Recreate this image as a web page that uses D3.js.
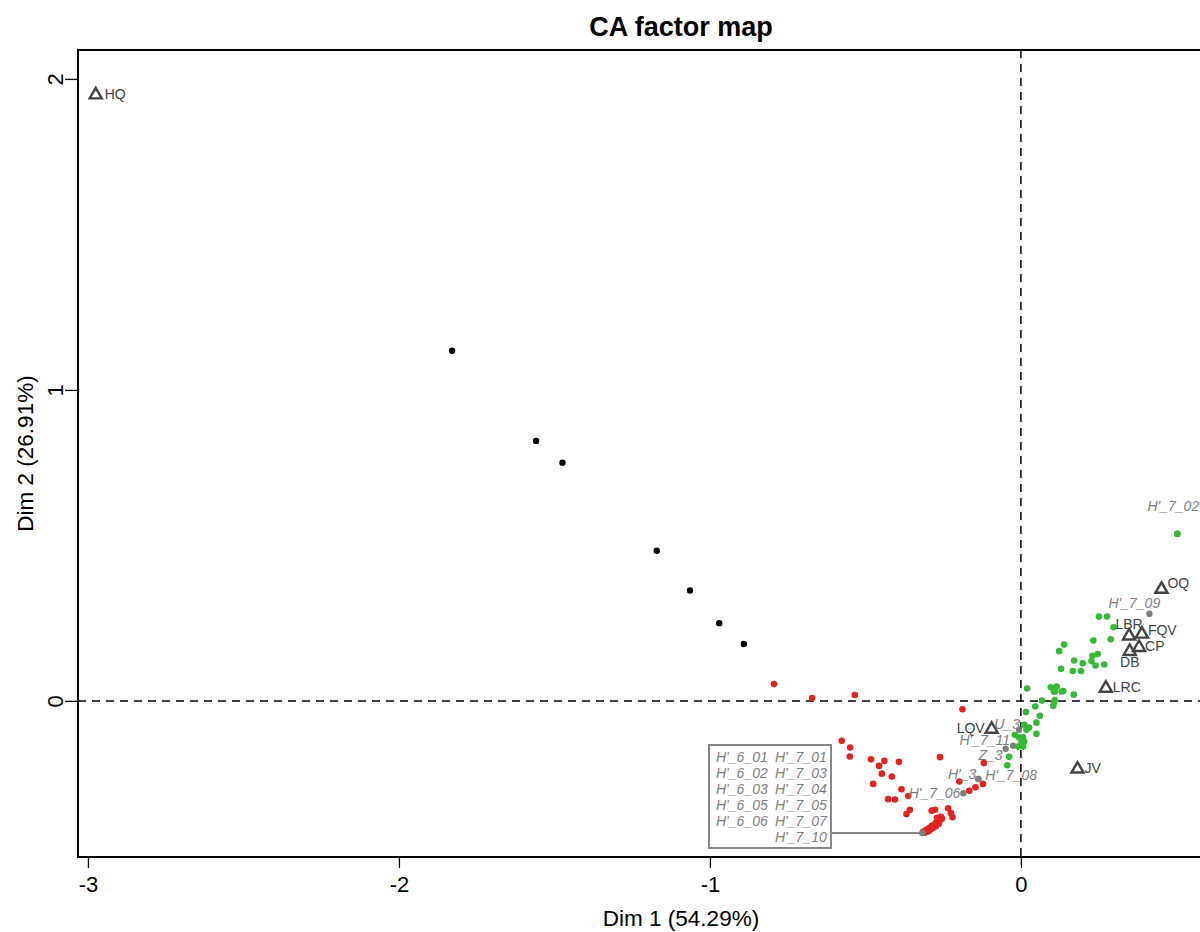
<!DOCTYPE html>
<html>
<head>
<meta charset="utf-8">
<script src="https://cdn.jsdelivr.net/npm/d3@7"></script>
<style>
  body { margin: 0; background: #fff; }
  svg { display: block; font-family: "Liberation Sans", Arial, sans-serif; }
</style>
</head>
<body>
<svg id="chart" width="1200" height="932"></svg>
<script>
// Dim 1 / Dim 2 coordinates
var blackRows = [[-1.829,1.126],[-1.559,0.836],[-1.474,0.766],[-1.171,0.483],[-1.064,0.355],[-0.970,0.250],[-0.891,0.183]];

var redRows = [[-0.794,0.054],[-0.671,0.009],[-0.534,0.019],[-0.188,-0.027],[-0.576,-0.128],[-0.549,-0.150],
  [-0.550,-0.179],[-0.482,-0.188],[-0.439,-0.193],[-0.392,-0.196],[-0.456,-0.209],[-0.260,-0.181],
  [-0.447,-0.234],[-0.415,-0.243],[-0.475,-0.267],[-0.198,-0.259],[-0.384,-0.284],[-0.362,-0.306],
  [-0.427,-0.316],[-0.405,-0.317],[-0.357,-0.350],[-0.368,-0.364],[-0.287,-0.353],[-0.276,-0.350],
  [-0.234,-0.345],[-0.225,-0.361],[-0.220,-0.374],[-0.119,-0.200],[-0.166,-0.289],[-0.146,-0.278],
  [-0.122,-0.267],[-0.315,-0.421],[-0.305,-0.415],[-0.299,-0.412],[-0.293,-0.408],[-0.286,-0.402],
  [-0.280,-0.399],[-0.273,-0.392],[-0.267,-0.389],[-0.260,-0.383],[-0.270,-0.376],[-0.257,-0.373],
  [-0.309,-0.424],[-0.296,-0.418],[-0.283,-0.408],[-0.277,-0.405],[-0.264,-0.395],[-0.254,-0.379],
  [-0.302,-0.421],[-0.289,-0.412],[-0.273,-0.402]];

var greenRows = [[0.503,0.537],[0.251,0.271],[0.277,0.271],[0.298,0.237],[0.233,0.194],[0.289,0.198],
  [0.139,0.181],[0.123,0.160],[0.247,0.151],[0.230,0.145],[0.227,0.128],[0.171,0.130],[0.199,0.121],
  [0.240,0.114],[0.268,0.117],[0.129,0.103],[0.167,0.096],[0.193,0.096],[0.020,0.040],[0.096,0.044],
  [0.115,0.046],[0.109,0.030],[0.136,0.032],[0.170,0.020],[0.131,0.030],[0.106,0.030],[0.068,0.001],
  [0.109,0.003],[0.106,-0.007],[0.104,-0.016],[0.016,-0.036],[0.046,-0.018],[0.061,-0.048],[0.050,-0.070],
  [0.011,-0.077],[0.026,-0.086],[0.018,-0.093],[0.050,-0.106],[-0.019,-0.109],[-0.007,-0.117],
  [0.007,-0.117],[0.010,-0.131],[0.002,-0.134],[-0.009,-0.147],[0.007,-0.147],[-0.038,-0.180],[-0.044,-0.207]];

// supplementary rows (grey, italic labels)
var supNames = ["U_3","H'_7_11","Z_3","H'_3","H'_7_08","H'_7_06","H'_7_09","H'_7_02"];
var supCoords = [[-0.006,-0.093],[-0.025,-0.144],[-0.049,-0.154],[-0.137,-0.251],[-0.137,-0.251],
  [-0.185,-0.297],[0.413,0.280],[0.503,0.537]];

// rows that sit on one point and are listed in the box
var boxPoint = [-0.317,-0.425];
var boxLeft = ["H'_6_01","H'_6_02","H'_6_03","H'_6_05","H'_6_06"];
var boxRight = ["H'_7_01","H'_7_03","H'_7_04","H'_7_05","H'_7_07","H'_7_10"];

// columns (triangles)
var colNames = ["HQ","LQV","JV","LRC","DB","CP","FQV","LBR","OQ"];
var colCoords = [[-2.975,1.952],[-0.094,-0.088],[0.182,-0.216],[0.273,0.044],[0.350,0.162],
  [0.380,0.175],[0.389,0.218],[0.348,0.212],[0.452,0.362]];

var xTicks = [-3,-2,-1,0];
var yTicks = [0,1,2];

// label placement: [dx, dy, anchor]
var supPlace = [[1,-6,"end"],[-3,-6,"end"],[-3,6,"end"],[-2,-5,"end"],[7,-4,"start"],[-3,0,"end"],[-15,-11,"middle"],[-4,-28,"middle"]];
var colPlace = [[9,0,"start"],[-7,0,"end"],[7,0,"start"],[7,0,"start"],[0,12,"middle"],[6,0,"start"],[6,-3,"start"],[0,-11,"middle"],[6,-5,"start"]];

var svg = d3.select("#chart");
var plotL = 78, plotT = 50, plotR = 1284, plotB = 857;

var x = d3.scaleLinear().domain([-3.032, 0.846]).range([plotL, plotR]);
var y = d3.scaleLinear().domain([-0.502, 2.093]).range([plotB, plotT]);

// title + axis titles
svg.append("text").attr("x", (plotL + plotR) / 2).attr("y", 36)
  .attr("text-anchor", "middle").attr("font-size", 27).attr("font-weight", "bold")
  .text("CA factor map");
svg.append("text").attr("x", (plotL + plotR) / 2).attr("y", 926)
  .attr("text-anchor", "middle").attr("font-size", 22.5).text("Dim 1 (54.29%)");
svg.append("text").attr("transform", "translate(33," + (plotT + plotB) / 2 + ") rotate(-90)")
  .attr("text-anchor", "middle").attr("font-size", 22.5).text("Dim 2 (26.91%)");

// axes
var fmt = function(d){ return String(d); };
var gx = svg.append("g").attr("transform", "translate(0," + plotB + ")")
  .call(d3.axisBottom(x).tickValues(xTicks).tickSize(11).tickPadding(8).tickFormat(fmt));
gx.select(".domain").remove();
gx.selectAll("text").attr("font-size", 22).attr("fill", "#000").attr("font-family", null);
gx.selectAll("line").attr("stroke", "#000").attr("stroke-width", 1.3);

var gy = svg.append("g").attr("transform", "translate(" + plotL + ",0)")
  .call(d3.axisLeft(y).tickValues(yTicks).tickSize(13).tickFormat(fmt));
gy.select(".domain").remove();
gy.selectAll("line").attr("stroke", "#000").attr("stroke-width", 1.3);
gy.selectAll("text").attr("font-size", 22).attr("fill", "#000").attr("font-family", null)
  .attr("x", 0).attr("text-anchor", "middle").attr("dy", "0.35em")
  .attr("transform", "translate(-23,0) rotate(-90)");

// reference lines
svg.append("line").attr("x1", x(0)).attr("x2", x(0)).attr("y1", plotT).attr("y2", plotB)
  .attr("stroke", "#000").attr("stroke-width", 1.5).attr("stroke-dasharray", "8,6");
svg.append("line").attr("x1", plotL).attr("x2", plotR).attr("y1", y(0)).attr("y2", y(0))
  .attr("stroke", "#000").attr("stroke-width", 1.5).attr("stroke-dasharray", "8,6");

// supplementary points (drawn below the coloured ones)
svg.append("g").selectAll("circle").data(supCoords).join("circle")
  .attr("cx", function(d){ return x(d[0]); }).attr("cy", function(d){ return y(d[1]); })
  .attr("r", 3.2).attr("fill", "#7f7f7f");

function dots(data, color, r) {
  svg.append("g").selectAll("circle").data(data).join("circle")
    .attr("cx", function(d){ return x(d[0]); }).attr("cy", function(d){ return y(d[1]); })
    .attr("r", r).attr("fill", color);
}
dots(blackRows, "#000", 3.2);
dots(redRows, "#e3231f", 3.3);
dots(greenRows, "#36b936", 3.3);

// box group point on top
svg.append("circle").attr("cx", x(boxPoint[0])).attr("cy", y(boxPoint[1])).attr("r", 3.3).attr("fill", "#7f7f7f");

// supplementary labels
svg.append("g").selectAll("text").data(supNames).join("text")
  .attr("x", function(d, i){ return x(supCoords[i][0]) + supPlace[i][0]; })
  .attr("y", function(d, i){ return y(supCoords[i][1]) + supPlace[i][1]; })
  .attr("dy", "0.35em").attr("text-anchor", function(d, i){ return supPlace[i][2]; })
  .attr("font-size", 14).attr("font-style", "italic").attr("fill", "#7f7f7f")
  .text(function(d){ return d; });

// label box
var bx0 = 709, by0 = 745, bx1 = 831, by1 = 848;
svg.append("rect").attr("x", bx0).attr("y", by0).attr("width", bx1 - bx0).attr("height", by1 - by0)
  .attr("fill", "#fff").attr("stroke", "#888").attr("stroke-width", 2);
svg.append("line").attr("x1", bx1).attr("x2", x(boxPoint[0])).attr("y1", y(boxPoint[1])).attr("y2", y(boxPoint[1]))
  .attr("stroke", "#888").attr("stroke-width", 2);
svg.append("g").selectAll("text").data(boxLeft).join("text")
  .attr("x", 716).attr("y", function(d, i){ return 757 + i * 16; }).attr("dy", "0.35em")
  .attr("font-size", 14).attr("font-style", "italic").attr("fill", "#7f7f7f").text(function(d){ return d; });
svg.append("g").selectAll("text").data(boxRight).join("text")
  .attr("x", 775).attr("y", function(d, i){ return 757 + i * 16; }).attr("dy", "0.35em")
  .attr("font-size", 14).attr("font-style", "italic").attr("fill", "#7f7f7f").text(function(d){ return d; });

// column triangles
var tri = d3.symbol().type(d3.symbolTriangle).size(64);
svg.append("g").selectAll("path").data(colCoords).join("path")
  .attr("d", tri)
  .attr("transform", function(d){ return "translate(" + x(d[0]) + "," + (y(d[1]) + 1) + ")"; })
  .attr("fill", "none").attr("stroke", "#444").attr("stroke-width", 2.4);
svg.append("g").selectAll("text").data(colNames).join("text")
  .attr("x", function(d, i){ return x(colCoords[i][0]) + colPlace[i][0]; })
  .attr("y", function(d, i){ return y(colCoords[i][1]) + colPlace[i][1]; })
  .attr("dy", "0.35em").attr("text-anchor", function(d, i){ return colPlace[i][2]; })
  .attr("font-size", 14).attr("fill", "#444")
  .text(function(d){ return d; });

// frame
svg.append("rect").attr("x", plotL).attr("y", plotT).attr("width", plotR - plotL).attr("height", plotB - plotT)
  .attr("fill", "none").attr("stroke", "#000").attr("stroke-width", 2);
</script>
</body>
</html>
